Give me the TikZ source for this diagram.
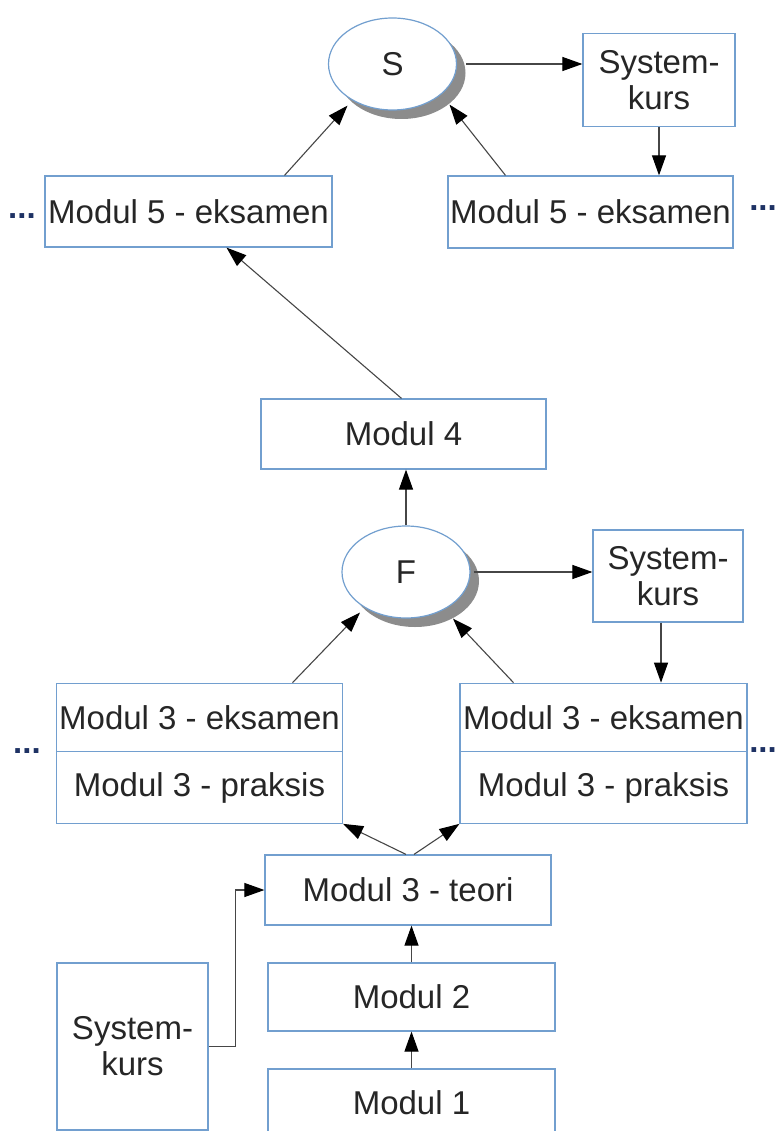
\documentclass[tikz,border=0pt]{standalone}
\usepackage{fontspec}
\setmainfont{Liberation Sans}
\usetikzlibrary{shapes.geometric,shadows,arrows.meta}
\definecolor{boxblue}{RGB}{114,159,207}
\definecolor{inkgray}{RGB}{70,70,70}
\definecolor{dotblue}{RGB}{30,50,100}

\begin{document}
\begin{tikzpicture}[x = 1pt, y = -1pt]
\tikzstyle{boxStyle} = [shape = rectangle, draw = boxblue, line width = 1.2pt, fill = white, inner sep = 0pt,
align = center, text = black!85, font = \fontsize{33}{36}\selectfont]
\tikzstyle{ovalStyle} = [shape = ellipse, draw = boxblue, line width = 1.2pt, fill = white, inner sep = 0pt,
minimum width = 128pt, minimum height = 92pt, text = black!85, font = \fontsize{33}{36}\selectfont,
drop shadow = {shadow xshift = 9pt, shadow yshift = -9pt, fill = black, opacity = .45}]
\tikzstyle{dotsStyle} = [inner sep = 0pt, text = dotblue, font = \fontsize{33}{36}\selectfont\bfseries]
\tikzstyle{arrowStyle} = [draw = inkgray, line width = 1.1pt, -{Triangle[length = 20pt, width = 14pt, color = black]}]
\useasboundingbox (0, 0) rectangle (776, 1131);
\clip (0, 0) rectangle (776, 1131);
% top level
\node[ovalStyle] (S) at (392.5, 64) {S};
\node[boxStyle, minimum width = 152pt, minimum height = 93pt] (sysS) at (659, 80) {System-\\kurs};
\node[boxStyle, minimum width = 287pt, minimum height = 71pt] (m5L) at (188.5, 211.5) {Modul 5 - eksamen};
\node[boxStyle, minimum width = 285pt, minimum height = 72pt] (m5R) at (590.5, 212) {Modul 5 - eksamen};
\node[boxStyle, minimum width = 285pt, minimum height = 70pt] (m4) at (403.5, 434) {Modul 4};
% middle level
\node[ovalStyle] (F) at (406, 572) {F};
\node[boxStyle, minimum width = 150pt, minimum height = 92pt] (sysF) at (668, 576) {System-\\kurs};
\node[boxStyle, minimum width = 286pt, minimum height = 68.5pt] (m3Le) at (199.5, 717.5) {Modul 3 - eksamen};
\node[boxStyle, minimum width = 286pt, minimum height = 71.5pt] (m3Lp) at (199.5, 787.5) {Modul 3 - praksis};
\node[boxStyle, minimum width = 287pt, minimum height = 68.5pt] (m3Re) at (603.5, 717.5) {Modul 3 - eksamen};
\node[boxStyle, minimum width = 287pt, minimum height = 71.5pt] (m3Rp) at (603.5, 787.5) {Modul 3 - praksis};
% bottom level
\node[boxStyle, minimum width = 286pt, minimum height = 70pt] (teori) at (408, 890) {Modul 3 - teori};
\node[boxStyle, minimum width = 287pt, minimum height = 68pt] (m2) at (411.5, 997) {Modul 2};
\node[boxStyle, minimum width = 287pt, minimum height = 68pt] (m1) at (411.5, 1103) {Modul 1};
\node[boxStyle, minimum width = 151pt, minimum height = 167pt] (sysB) at (132.5, 1046.5) {System-\\kurs};
\node[dotsStyle] (dotsA) at (22, 216) {...};
\node[dotsStyle] (dotsB) at (763, 208) {...};
\node[dotsStyle] (dotsC) at (27, 751) {...};
\node[dotsStyle] (dotsD) at (763, 750) {...};
\draw[arrowStyle, shorten <= 9pt] (S.east) -- (S.east -| sysS.west);
\draw[arrowStyle] (sysS.south) -- (sysS.south |- m5R.north);
\draw[arrowStyle] ([xshift = -85pt]m5R.north) -- ([xshift = 57pt, yshift = 6pt]S.south);
\draw[arrowStyle] ([xshift = 96pt]m5L.north) -- ([xshift = -45pt, yshift = 5pt]S.south);
\draw[arrowStyle] ([xshift = -2pt]m4.north) -- ([xshift = 38pt]m5L.south);
\draw[arrowStyle] (F.north) -- (F.north |- m4.south);
\draw[arrowStyle, shorten <= 3pt] (F.east) -- (F.east -| sysF.west);
\draw[arrowStyle] ([xshift = -7pt]sysF.south) -- ([xshift = -7pt]sysF.south |- m3Re.north);
\draw[arrowStyle] ([xshift = 93pt]m3Le.north) -- ([xshift = -46pt, yshift = 6pt]F.south);
\draw[arrowStyle] ([xshift = -90pt]m3Re.north) -- ([xshift = 47pt]F.south);
\draw[arrowStyle] ([xshift = -2pt]teori.north) -- (m3Lp.south east);
\draw[arrowStyle] ([xshift = 6pt]teori.north) -- (m3Rp.south west);
\draw[arrowStyle] (m2.north) -- (m2.north |- teori.south);
\draw[arrowStyle] (m1.north) -- (m1.north |- m2.south);
\draw[arrowStyle] (sysB.east) -- ([xshift = 27pt]sysB.east) |- (teori.west);
\end{tikzpicture}
\end{document}
